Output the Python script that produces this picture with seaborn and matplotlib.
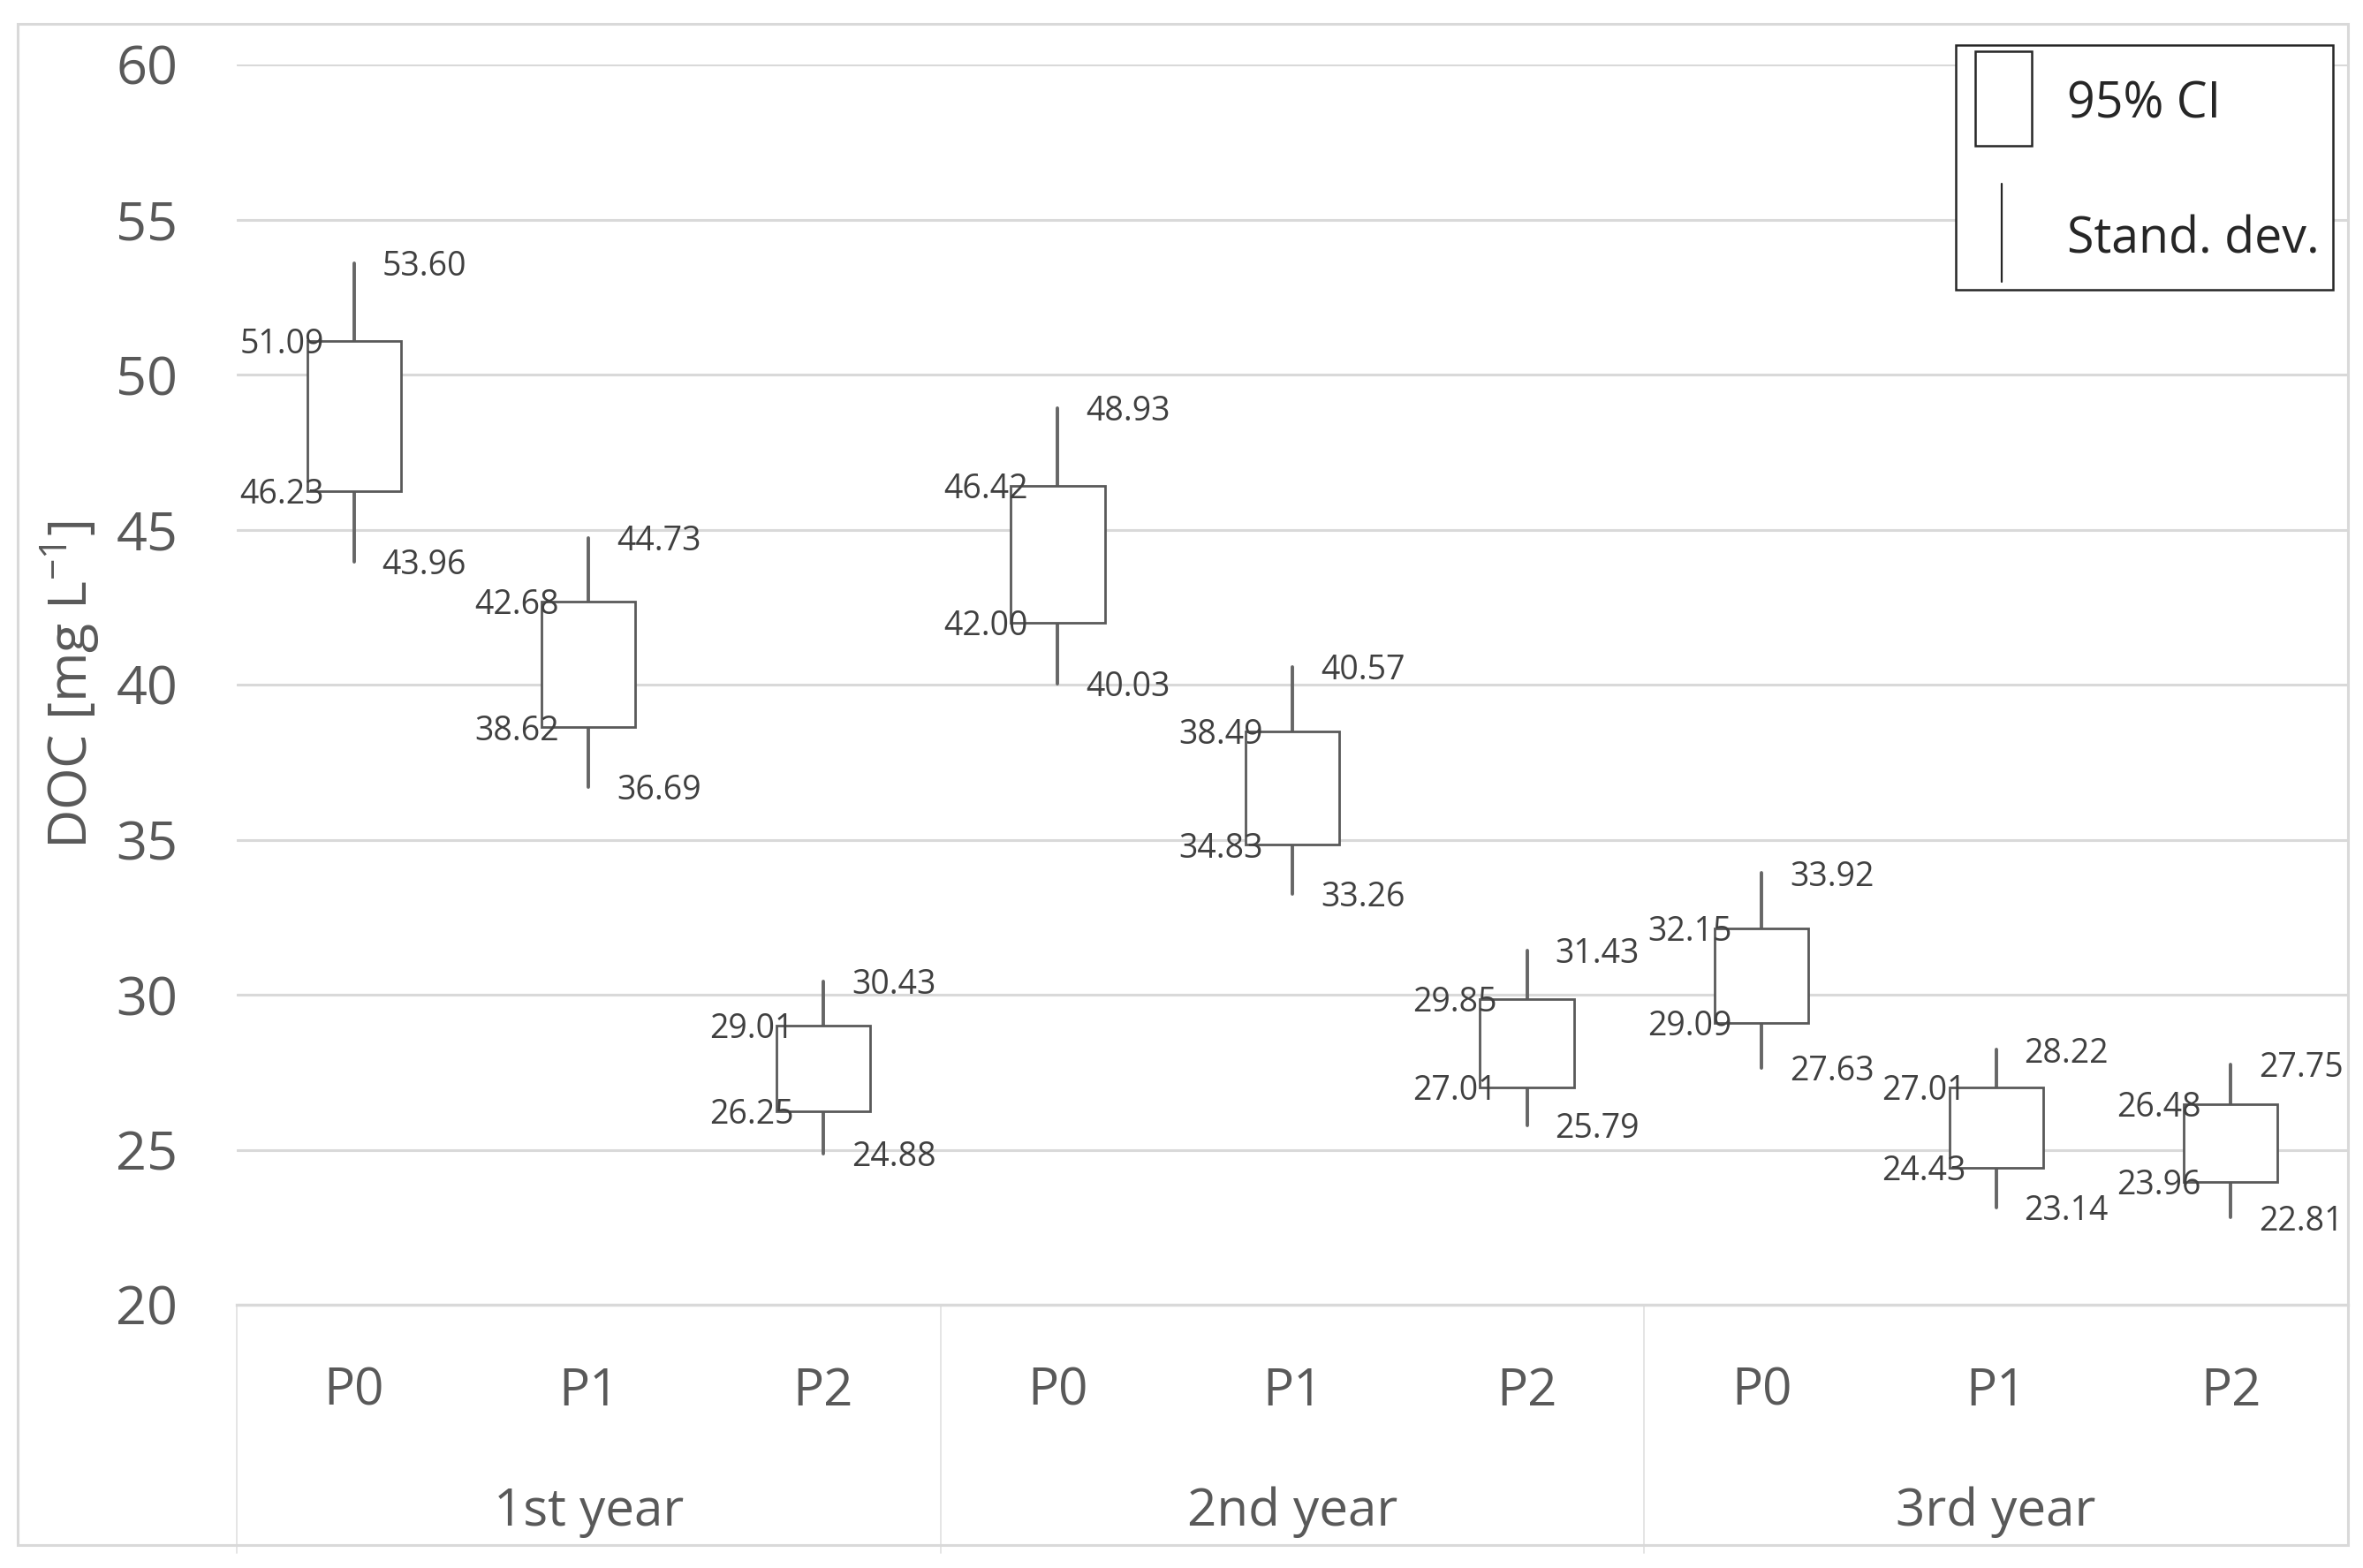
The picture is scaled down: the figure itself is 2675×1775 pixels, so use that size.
import numpy as np
import pandas as pd
import matplotlib
matplotlib.use("Agg")
import matplotlib.pyplot as plt
from matplotlib.patches import Rectangle
from matplotlib.lines import Line2D
import seaborn as sns

# values
years = ["1st year", "2nd year", "3rd year"]
plots = ["P0", "P1", "P2"]
ci_low = [46.23, 38.62, 26.25, 42.00, 34.83, 27.01, 29.09, 24.43, 23.96]
ci_high = [51.09, 42.68, 29.01, 46.42, 38.49, 29.85, 32.15, 27.01, 26.48]
sd_low = [43.96, 36.69, 24.88, 40.03, 33.26, 25.79, 27.63, 23.14, 22.81]
sd_high = [53.60, 44.73, 30.43, 48.93, 40.57, 31.43, 33.92, 28.22, 27.75]

df = pd.DataFrame({
    "year": np.repeat(years, len(plots)),
    "plot": plots * len(years),
    "ci_low": ci_low,
    "ci_high": ci_high,
    "sd_low": sd_low,
    "sd_high": sd_high,
})
df["pos"] = np.arange(len(df))

# long table for whiskers (one vertical line per category)
whisk = df.melt(id_vars=["pos"], value_vars=["sd_low", "sd_high"], value_name="DOC")

sns.set_theme(style="white")
plt.rcParams["font.family"] = ["Open Sans", "DejaVu Sans"]
plt.rcParams["mathtext.fontset"] = "custom"
plt.rcParams["mathtext.rm"] = "Open Sans"
plt.rcParams["mathtext.default"] = "regular"

W, H = 2675, 1775
fig = plt.figure(figsize=(W / 100, H / 100), dpi=100)
ax = fig.add_axes([268 / W, 1 - 1477 / H, (2658 - 268) / W, (1477 - 73) / H])

grey = "#595959"
txt = "#404040"

# whiskers (standard deviation)
sns.lineplot(data=whisk, x="pos", y="DOC", units="pos", estimator=None, sort=False,
             color="#666666", lw=2.8, ax=ax, legend=False, zorder=2)

# boxes (95% CI)
ax.bar(df["pos"], df["ci_high"] - df["ci_low"], bottom=df["ci_low"], width=0.4,
       facecolor="white", edgecolor=grey, linewidth=2.0, zorder=3)

# data labels
for _, r in df.iterrows():
    for v in (r["ci_high"], r["ci_low"]):
        ax.annotate(f"{v:.2f}", xy=(r["pos"] - 0.2, v), xytext=(14, -3),
                    textcoords="offset points", ha="right", va="center",
                    fontsize=27, color=txt, zorder=4)
    for v in (r["sd_high"], r["sd_low"]):
        ax.annotate(f"{v:.2f}", xy=(r["pos"], v), xytext=(23, -3),
                    textcoords="offset points", ha="left", va="center",
                    fontsize=27, color=txt, zorder=4)

ax.set_xlim(-0.5, len(df) - 0.5)
ax.set_ylim(20, 60)
ax.set_yticks(np.arange(20, 61, 5))
ax.yaxis.grid(True, color="#d9d9d9", lw=2.2)
ax.xaxis.grid(False)
ax.set_axisbelow(True)
ax.tick_params(axis="y", length=0, pad=48, labelsize=44, labelcolor=grey)
ax.set_xticks([])
ax.set_xlabel("")
sns.despine(ax=ax, left=True, right=True, top=True)
ax.spines["bottom"].set_color("#d9d9d9")
ax.spines["bottom"].set_linewidth(2.4)

ax.set_ylabel("DOC [mg L$^{-1}$]", fontsize=44, color=grey)
ax.yaxis.set_label_coords(-0.0787, 0.5)
ax.yaxis.label.set_va("center")

# two-level category axis
xt = ax.get_xaxis_transform()
for _, r in df.iterrows():
    ax.text(r["pos"], -0.070, r["plot"], transform=xt, ha="center", va="center",
            fontsize=42, color=grey)
for i, y in enumerate(years):
    ax.text(i * 3 + 1, -0.167, y, transform=xt, ha="center", va="center",
            fontsize=42, color=grey)
for i in range(len(years)):
    ax.plot([i * 3 - 0.5] * 2, [0, -0.2], transform=xt, clip_on=False,
            color="#e3e3e3", lw=1.3)

# chart border
fig.add_artist(Rectangle((20 / W, 1 - 1749 / H), (2658 - 20) / W, (1749 - 27) / H,
                         transform=fig.transFigure, fill=False, ec="#d9d9d9", lw=2.2))

# legend
fig.add_artist(Rectangle((2214 / W, 1 - 328 / H), (2641 - 2214) / W, (328 - 51) / H,
                         transform=fig.transFigure, fc="white", ec="#262626", lw=1.8, zorder=5))
fig.add_artist(Rectangle((2236 / W, 1 - 165 / H), (2300 - 2236) / W, (165 - 58) / H,
                         transform=fig.transFigure, fc="white", ec="#262626", lw=1.8, zorder=6))
fig.add_artist(Line2D([2266 / W] * 2, [1 - 208 / H, 1 - 319 / H],
                      transform=fig.transFigure, color="#262626", lw=1.6, zorder=6))
fig.text(2340 / W, 1 - 119 / H, "95% CI", ha="left", va="center", fontsize=40,
         color="#262626", zorder=6)
fig.text(2340 / W, 1 - 272 / H, "Stand. dev.", ha="left", va="center", fontsize=40,
         color="#262626", zorder=6)

fig.savefig("out.png", dpi=100, facecolor="white")
